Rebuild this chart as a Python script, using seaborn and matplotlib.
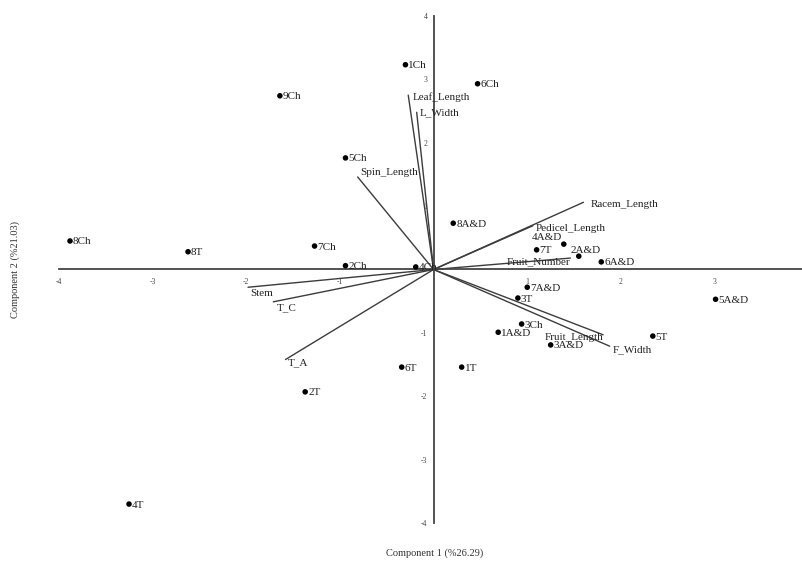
import matplotlib
matplotlib.use("Agg")
import matplotlib.pyplot as plt
import numpy as np
import pandas as pd
import seaborn as sns

# ---- sample scores (Component 1, Component 2) ----
ch_names = ["1Ch", "2Ch", "3Ch", "4Ch", "5Ch", "6Ch", "7Ch", "8Ch", "9Ch"]
ch_pc1 = [-0.30, -0.94, 0.94, -0.19, -0.94, 0.47, -1.27, -3.88, -1.64]
ch_pc2 = [3.23, 0.06, -0.86, 0.04, 1.76, 2.93, 0.37, 0.45, 2.74]

t_names = ["1T", "2T", "3T", "4T", "5T", "6T", "7T", "8T"]
t_pc1 = [0.30, -1.37, 0.90, -3.25, 2.34, -0.34, 1.10, -2.62]
t_pc2 = [-1.54, -1.93, -0.45, -3.70, -1.05, -1.54, 0.31, 0.28]

ad_names = ["1A&D", "2A&D", "3A&D", "4A&D", "5A&D", "6A&D", "7A&D", "8A&D"]
ad_pc1 = [0.69, 1.55, 1.25, 1.39, 3.01, 1.79, 1.00, 0.21]
ad_pc2 = [-0.99, 0.21, -1.19, 0.40, -0.47, 0.12, -0.28, 0.73]

# ---- variable loadings ----
var_names = ["Leaf_Length", "L_Width", "Spin_Length", "Racem_Length",
             "Pedicel_Length", "Fruit_Number", "Fruit_Length", "F_Width",
             "Stem", "T_C", "T_A"]
var_pc1 = [-0.27, -0.18, -0.81, 1.60, 1.06, 1.46, 1.81, 1.88, -1.98, -1.71, -1.58]
var_pc2 = [2.75, 2.48, 1.46, 1.06, 0.69, 0.18, -1.03, -1.21, -0.28, -0.51, -1.42]

x_ticks = [-4, -3, -2, -1, 1, 2, 3]
y_ticks = [-4, -3, -2, -1, 1, 2, 3, 4]

# label placement: (dx px, dy px, horizontal alignment)
point_label_pos = {"4A&D": (-2, 7, "right"), "2A&D": (-8, 6, "left")}
var_label_pos = {
    "Leaf_Length": (4, -2, "left"), "L_Width": (3, 0, "left"),
    "Spin_Length": (3, 4, "left"), "Racem_Length": (7, -2, "left"),
    "Pedicel_Length": (3, -3, "left"), "Fruit_Number": (0, -4, "right"),
    "Fruit_Length": (0, -3, "right"), "F_Width": (3, -4, "left"),
    "Stem": (2, -6, "left"), "T_C": (3, -6, "left"), "T_A": (2, -3, "left"),
}

scores = pd.DataFrame({
    "name": ch_names + t_names + ad_names,
    "pc1": ch_pc1 + t_pc1 + ad_pc1,
    "pc2": ch_pc2 + t_pc2 + ad_pc2,
})

# each loading vector as a two-point segment from the origin
seg_rows = []
for n, a, b in zip(var_names, var_pc1, var_pc2):
    seg_rows.append({"var": n, "order": 0, "pc1": 0.0, "pc2": 0.0})
    seg_rows.append({"var": n, "order": 1, "pc1": a, "pc2": b})
segments = pd.DataFrame(seg_rows)

sns.set_style("white")
plt.rcParams["font.family"] = ["Liberation Serif", "DejaVu Serif"]

fig = plt.figure(figsize=(8.03, 5.62), dpi=100)
ax = fig.add_axes([0, 0, 1, 1])
ax.set_xlim(-4.627, 3.943)
ax.set_ylim(-4.614, 4.251)

line_col = "#3c3c3c"
sns.lineplot(data=segments, x="pc1", y="pc2", units="var", estimator=None,
             sort=False, color=line_col, linewidth=1.0, ax=ax, legend=False)

sns.scatterplot(data=scores, x="pc1", y="pc2", color="black", s=16,
                edgecolor="none", ax=ax, legend=False, zorder=3)

for n, a, b in zip(scores["name"], scores["pc1"], scores["pc2"]):
    dx, dy, ha = point_label_pos.get(n, (3, -1, "left"))
    ax.annotate(n, (a, b), xytext=(dx, dy), textcoords="offset pixels",
                ha=ha, va="center", fontsize=8, color="#222222")

for n, a, b in zip(var_names, var_pc1, var_pc2):
    dx, dy, ha = var_label_pos[n]
    ax.annotate(n, (a, b), xytext=(dx, dy), textcoords="offset pixels",
                ha=ha, va="center", fontsize=8, color="#222222")

# axes crossing at the origin
for s in ["top", "right"]:
    ax.spines[s].set_visible(False)
ax.spines["left"].set_position(("data", 0))
ax.spines["bottom"].set_position(("data", 0))
ax.spines["left"].set_bounds(-4, 4)
ax.spines["bottom"].set_bounds(-4, 3.943)
for s in ["left", "bottom"]:
    ax.spines[s].set_color("#444444")
    ax.spines[s].set_linewidth(1.3)

ax.set_xticks(x_ticks)
ax.set_yticks(y_ticks)
ax.set_xticklabels([str(v) for v in x_ticks])
ax.set_yticklabels([str(v) for v in y_ticks])
ax.tick_params(axis="x", direction="inout", length=6, width=0.8,
               labelsize=5.5, pad=3, colors="#444444")
ax.tick_params(axis="y", direction="out", length=3, width=0.8,
               labelsize=5.5, pad=1.5, colors="#444444")
ax.set_xlabel("")
ax.set_ylabel("")

fig.text(0.5417, 0.016, "Component 1 (%26.29)", ha="center", va="center",
         fontsize=7.5, color="#333333")
fig.text(0.0187, 0.52, "Component 2 (%21.03)", ha="center", va="center",
         rotation=90, fontsize=7.5, color="#333333")

fig.savefig("out.png", dpi=100, facecolor="white")
